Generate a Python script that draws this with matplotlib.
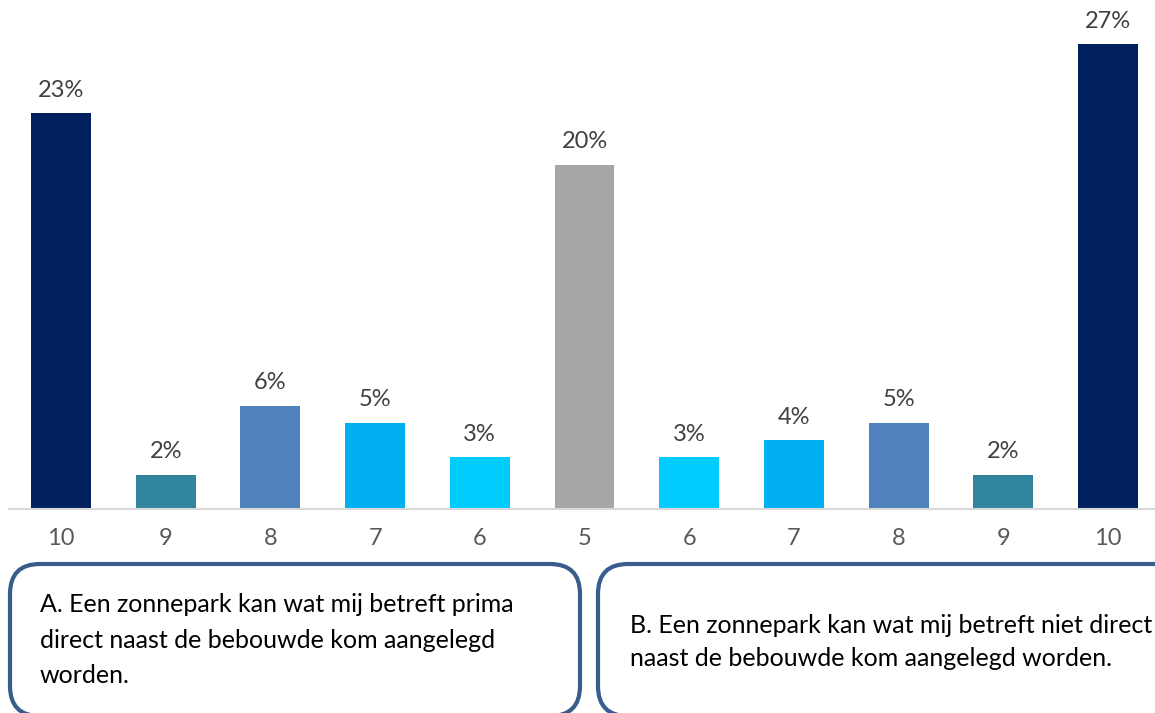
import matplotlib.pyplot as plt
from matplotlib.patches import FancyBboxPatch

plt.rcParams['font.family'] = ['Lato', 'DejaVu Sans']

categories = ["10", "9", "8", "7", "6", "5", "6", "7", "8", "9", "10"]
values = [23, 2, 6, 5, 3, 20, 3, 4, 5, 2, 27]
colors = ["#002060", "#31859C", "#4F81BD", "#00B0F0", "#00CCFF", "#A6A6A6",
          "#00CCFF", "#00B0F0", "#4F81BD", "#31859C", "#002060"]
label_a = "A. Een zonnepark kan wat mij betreft prima\ndirect naast de bebouwde kom aangelegd\nworden."
label_b = "B. Een zonnepark kan wat mij betreft niet direct\nnaast de bebouwde kom aangelegd worden."

W, H = 1155, 713
fig = plt.figure(figsize=(W / 100, H / 100), dpi=100)

# bar chart area in pixel terms
left, right = 8.6, 1160.4
base, top = 509, 27
ax = fig.add_axes([left / W, (H - base) / H, (right - left) / W, (base - top) / H])
x = range(len(values))
bars = ax.bar(x, values, width=0.573, color=colors)
ax.set_xlim(-0.5, len(values) - 0.5)
ax.set_ylim(0, 28)
for b, v in zip(bars, values):
    ax.annotate(f"{v}%", (b.get_x() + b.get_width() / 2, v),
                xytext=(0, 9), textcoords="offset points",
                ha="center", va="bottom", fontsize=17, color="#404040")
ax.set_xticks(list(x))
ax.set_xticklabels(categories, fontsize=17, color="#595959")
ax.tick_params(axis="x", length=0, pad=14)
ax.set_yticks([])
for s in ["top", "left", "right"]:
    ax.spines[s].set_visible(False)
ax.spines["bottom"].set_color("#D9D9D9")
ax.spines["bottom"].set_linewidth(1.5)

# overlay for the two statement boxes
ov = fig.add_axes([0, 0, 1, 1])
ov.set_xlim(0, W)
ov.set_ylim(H, 0)
ov.axis("off")
for x0, x1 in [(10, 580), (598, 1190)]:
    ov.add_patch(FancyBboxPatch((x0, 564), x1 - x0, 152,
                                boxstyle="round,pad=0,rounding_size=30",
                                fc="white", ec="#385D8A", lw=3))
ov.text(40, 640, label_a, fontsize=18, color="black", va="center", ha="left",
        linespacing=1.65)
ov.text(630, 642, label_b, fontsize=18, color="black", va="center", ha="left",
        linespacing=1.5)

fig.savefig("out.png", dpi=100)
